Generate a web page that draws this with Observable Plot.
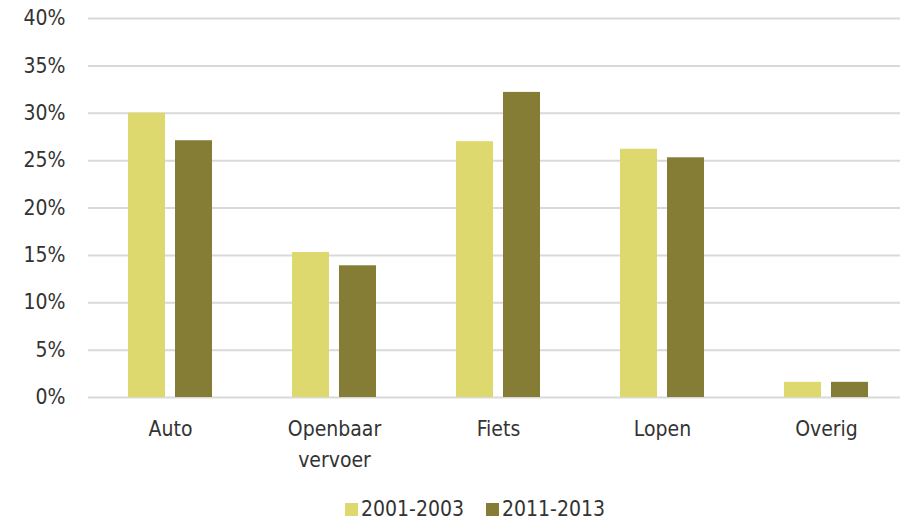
<!DOCTYPE html>
<html>
<head>
<meta charset="utf-8">
<script src="https://cdn.jsdelivr.net/npm/d3@7"></script>
<script src="https://cdn.jsdelivr.net/npm/@observablehq/plot@0.6"></script>
<style>
  html, body { margin: 0; padding: 0; background: #fff; }
  body { width: 900px; height: 520px; overflow: hidden; font-family: "DejaVu Sans Condensed", "DejaVu Sans", sans-serif; }
  #legend { display: flex; justify-content: center; align-items: center; gap: 22px; font-size: 21px; color: #333; margin-top: 17px; padding-left: 50px; }
  .item { display: flex; align-items: center; gap: 3px; }
  .sw { width: 13px; height: 13px; display: inline-block; }
</style>
</head>
<body>
<div id="chart"></div>
<div id="legend"></div>
<script>
const categories = ["Auto", "Openbaar\nvervoer", "Fiets", "Lopen", "Overig"];
const series = ["2001-2003", "2011-2013"];
const values2001 = [30.0, 15.3, 27.0, 26.2, 1.6];
const values2011 = [27.1, 13.9, 32.2, 25.3, 1.6];
const colors = ["#ded96e", "#857d36"];
const yTicks = [0, 5, 10, 15, 20, 25, 30, 35, 40];

const data = [];
categories.forEach((c, i) => {
  data.push({cat: c, series: series[0], value: values2001[i]});
  data.push({cat: c, series: series[1], value: values2011[i]});
});

const chart = Plot.plot({
  width: 900,
  height: 480,
  marginLeft: 88,
  marginRight: 0,
  marginTop: 18,
  marginBottom: 83,
  style: {fontFamily: "'DejaVu Sans Condensed', 'DejaVu Sans', sans-serif", fontSize: "20px", color: "#333", background: "#fff", overflow: "hidden"},
  fx: {domain: categories, padding: 0, range: [88, 908], label: null},
  x: {domain: series, paddingInner: 0.2128, paddingOuter: 0.851, axis: null},
  y: {domain: [0, 40], label: null},
  color: {domain: series, range: colors},
  marks: [
    Plot.gridY(yTicks, {stroke: "#d9d9d9", strokeOpacity: 1, strokeWidth: 2}),
    Plot.axisY(yTicks, {tickSize: 0, tickPadding: 23, tickFormat: d => d + "%", fontSize: 21, fill: "#333", label: null}),
    Plot.axisFx({anchor: "bottom", tickSize: 0, tickPadding: 16, fontSize: 21, fill: "#333", lineHeight: 1.48, label: null}),
    Plot.barY(data, {fx: "cat", x: "series", y: "value", fill: "series"})
  ]
});
document.getElementById("chart").appendChild(chart);

const legend = document.getElementById("legend");
series.forEach((s, i) => {
  const item = document.createElement("div");
  item.className = "item";
  const sw = document.createElement("span");
  sw.className = "sw";
  sw.style.background = colors[i];
  const t = document.createElement("span");
  t.textContent = s;
  item.appendChild(sw);
  item.appendChild(t);
  legend.appendChild(item);
});
</script>
</body>
</html>
